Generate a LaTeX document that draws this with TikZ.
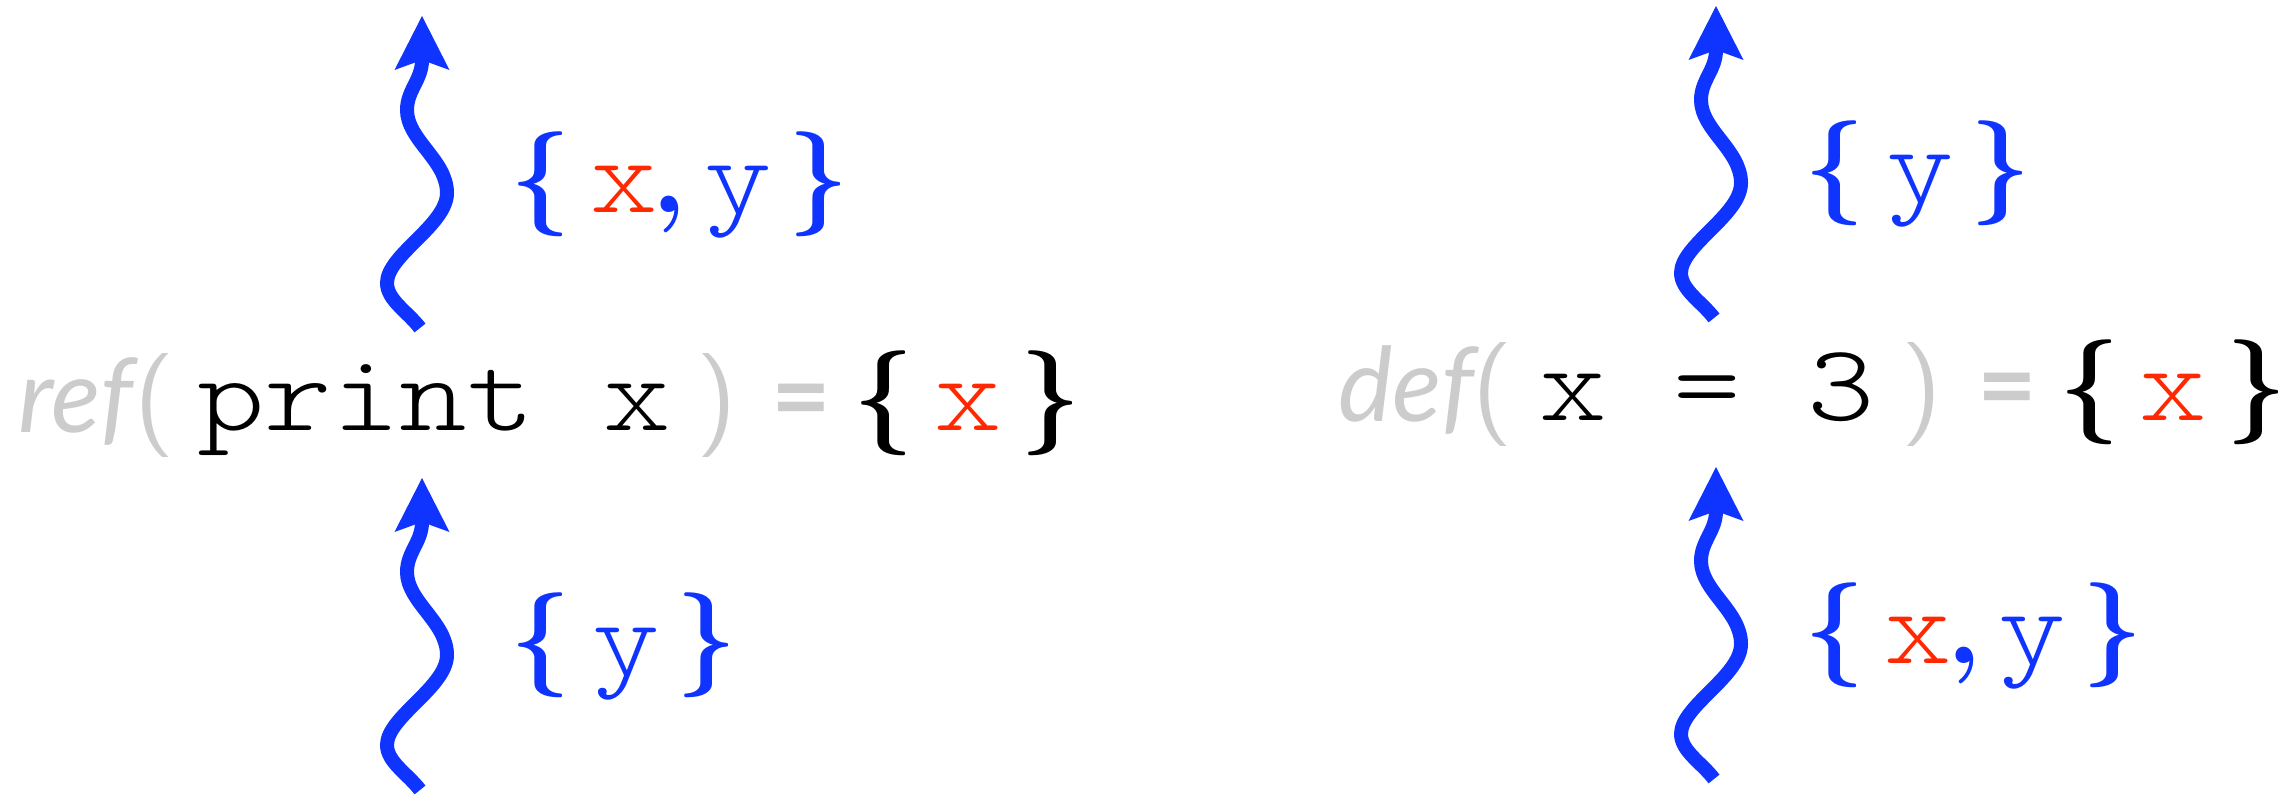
\documentclass[tikz,border=0pt]{standalone}
\usepackage{fontspec}
\usetikzlibrary{arrows.meta}
\newfontfamily\codefont[Extension=.otf,FakeStretch=1.18]{lmmonolt10-regular}
\newfontfamily\gillfont{Lato}
\newfontfamily\parenfont[Extension=.otf]{lmsans10-regular}
\newfontfamily\bracefont[Extension=.otf]{lmroman10-bold}
\definecolor{qblue}{RGB}{16,52,255}
\definecolor{qred}{RGB}{255,40,0}
\definecolor{qgray}{RGB}{204,204,204}
\tikzset{
  code/.style={inner sep=0pt, anchor=base, font=\fontsize{109}{109}\selectfont\codefont},
  gsansit/.style={inner sep=0pt, anchor=base west, text=qgray, font=\fontsize{103}{103}\selectfont\gillfont\itshape},
  gsansb/.style={inner sep=0pt, anchor=base, text=qgray, font=\fontsize{103}{103}\selectfont\gillfont\bfseries},
  paren/.style={inner sep=0pt, anchor=base, text=qgray, font=\fontsize{104}{104}\selectfont\parenfont},
  bracech/.style={inner sep=0pt, anchor=base, font=\fontsize{105}{105}\selectfont\bracefont},
  squig/.style={draw=qblue, line width=14pt,
    -{Stealth[length=54pt,width=55pt,inset=10pt,line width=0pt]}},
  squiggle/.pic={
    \draw[squig] (-2,312) .. controls (-14,296) and (-35,284) .. (-35,267)
      .. controls (-35,239) and (25,209) .. (25,177)
      .. controls (25,144) and (-15,124) .. (-15,94)
      .. controls (-15,74) and (0,64) .. (0,44) -- (0,0);
  }
}
\begin{document}
\begin{tikzpicture}[x=1pt,y=-1pt]
\useasboundingbox (0,0) rectangle (2293,793);
% squiggly arrows
\pic (sqa) at (422,16) {squiggle};
\pic (sqb) at (422,478) {squiggle};
\pic (sqc) at (1716,6) {squiggle};
\pic (sqd) at (1716,467) {squiggle};
% ref line
\node[gsansit] (ref) at (18,432) {ref};
\node[paren] (lpa) at (154.5,431) {(};
\node[code] (print) at (366,430) {print};
\node[code] (xa) at (637,430) {x};
\node[paren] (rpa) at (716.5,431) {)};
\node[gsansb] (eqa) at (801.5,432) {=};
\node[bracech] (lba) at (884,429) {\{};
\node[code,text=qred] (xb) at (968.5,430) {x};
\node[bracech] (rba) at (1051,429) {\}};
% def line
\node[gsansit] (def) at (1338,421) {def};
\node[paren] (lpb) at (1493,420) {(};
\node[code] (xc) at (1573,420) {x};
\node[code] (eqb) at (1707.5,420) {=};
\node[code] (three) at (1841.5,420) {3};
\node[paren] (rpb) at (1922,420) {)};
\node[gsansb] (eqc) at (2007,421) {=};
\node[bracech] (lbb) at (2089.5,418) {\{};
\node[code,text=qred] (xd) at (2173,420) {x};
\node[bracech] (rbb) at (2256.5,418) {\}};
% top-left label
\node[bracech,text=qblue] (lbc) at (541,210) {\{};
\node[code,text=qred] (xe) at (624.5,212) {x};
\node[bracech,text=qblue] (cma) at (669.5,212) {,};
\node[code,text=qblue] (ya) at (738.5,212) {y};
\node[bracech,text=qblue] (rbc) at (819,210) {\}};
% bottom-left label
\node[bracech,text=qblue] (lbd) at (541,671) {\{};
\node[code,text=qblue] (yb) at (626.5,674) {y};
\node[bracech,text=qblue] (rbd) at (707,671) {\}};
% top-right label
\node[bracech,text=qblue] (lbe) at (1835,199) {\{};
\node[code,text=qblue] (yc) at (1920.5,201) {y};
\node[bracech,text=qblue] (rbe) at (2001,199) {\}};
% bottom-right label
\node[bracech,text=qblue] (lbf) at (1835,661) {\{};
\node[code,text=qred] (xf) at (1918,663) {x};
\node[bracech,text=qblue] (cmb) at (1964.5,663) {,};
\node[code,text=qblue] (yd) at (2032,663) {y};
\node[bracech,text=qblue] (rbf) at (2113,661) {\}};
\end{tikzpicture}
\end{document}
